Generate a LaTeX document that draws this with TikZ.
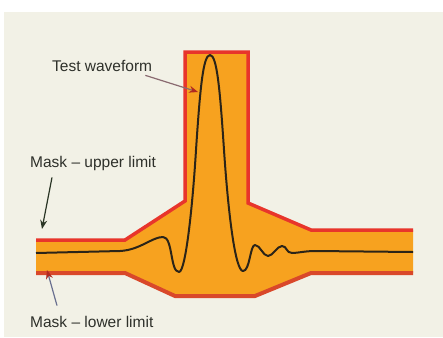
\documentclass[tikz,border=0pt]{standalone}
\usepackage{fontspec}
\setmainfont{Liberation Sans}
\usepackage{xcolor}
\usepackage{tikz}
\usetikzlibrary{arrows.meta, positioning, calc}

\definecolor{fundo}{HTML}{F2F1E6}
\definecolor{mascara}{HTML}{F7A21F}
\definecolor{limite}{HTML}{E8352B}
\definecolor{limiteinf}{HTML}{D9482A}
\definecolor{onda}{HTML}{2B2418}
\definecolor{texto}{HTML}{2E302A}
\definecolor{setaonda}{HTML}{8A6A70}
\definecolor{setasup}{HTML}{2A3525}
\definecolor{setainf}{HTML}{6A7090}
\definecolor{pontavermelha}{HTML}{B02A20}

\begin{document}
\begin{tikzpicture}[
        x=1pt, y=-1pt,
        % 1. DEFINIÇÃO DOS ESTILOS VISUAIS
        rotulo/.style={
            font=\fontsize{15.5}{18}\selectfont, text=texto,
            inner sep=0pt, anchor=base west
        },
        % Bordas da máscara (vermelho)
        borda/.style={draw=limite, line width=3.5pt, line join=miter},
        % Forma de onda (traço escuro)
        curva/.style={draw=onda, line width=2pt, line join=round},
        % Estilo das setas
        seta/.style={line width=1.2pt, -{Stealth[length=8pt, width=6pt]}}
    ]

        % 2. FUNDO
        \useasboundingbox (0,0) rectangle (443,337);
        \fill[white] (0,0) rectangle (443,337);
        \fill[fundo] (4,12) rectangle (443,337);

        % 3. MÁSCARA (área laranja)
        \fill[mascara] (36,240) -- (125,240) -- (185,201) -- (185,52) -- (248,52)
            -- (248,203) -- (311,230) -- (413,230) -- (413,273) -- (311,273)
            -- (255,296) -- (175,296) -- (125,272) -- (36,272) -- cycle;

        % Limite superior e limite inferior
        \draw[borda] (36,240) -- (125,240) -- (185,201) -- (185,52) -- (248,52)
            -- (248,203) -- (311,230) -- (413,230);
        \draw[borda, draw=limiteinf, line width=4pt] (36,273) -- (125,273)
            -- (175,296) -- (255,296) -- (311,273) -- (413,273);

        % 4. FORMA DE ONDA
        \draw[curva] (36,253) -- (120,251)
            .. controls (140,250) and (152,237) .. (163,237)
            .. controls (173,237) and (170,272) .. (179,272)
            .. controls (186,272) and (193,200) .. (196,150)
            .. controls (200,90) and (203,55) .. (210,55)
            .. controls (217,55) and (220,90) .. (224,150)
            .. controls (228,210) and (235,271) .. (243,271)
            .. controls (250,271) and (250,245) .. (255,245)
            .. controls (260,245) and (263,256) .. (268,256)
            .. controls (273,256) and (277,246) .. (282,246)
            .. controls (287,246) and (286,253) .. (292,253)
            .. controls (298,253) and (305,251) .. (315,251)
            -- (413,252);

        % 5. RÓTULOS (NÓS)
        \node[rotulo] (teste) at (52,71) {Test waveform};
        \node[rotulo] (sup) at (30,167) {Mask – upper limit};
        \node[rotulo] (inf) at (30,327) {Mask – lower limit};

        % pontas das setas
        \coordinate (pontaonda) at (198,92);
        \coordinate (pontasup) at (42,229);
        \coordinate (pontainf) at (47,270);

        % 6. LIGAÇÃO DAS SETAS
        \draw[seta, draw=setaonda, -{Stealth[length=9pt, width=7pt, color=pontavermelha]}]
            ($(teste.south east)+(-7,4)$) -- (pontaonda);
        \draw[seta, draw=setasup, -{Stealth[length=9pt, width=7pt, color=setasup]}]
            ($(sup.south west)+(22,7)$) -- (pontasup);
        \draw[seta, draw=setainf, -{Stealth[length=9pt, width=7pt, color=pontavermelha]}]
            ($(inf.north west)+(27,-10)$) -- (pontainf);

    \end{tikzpicture}
\end{document}
